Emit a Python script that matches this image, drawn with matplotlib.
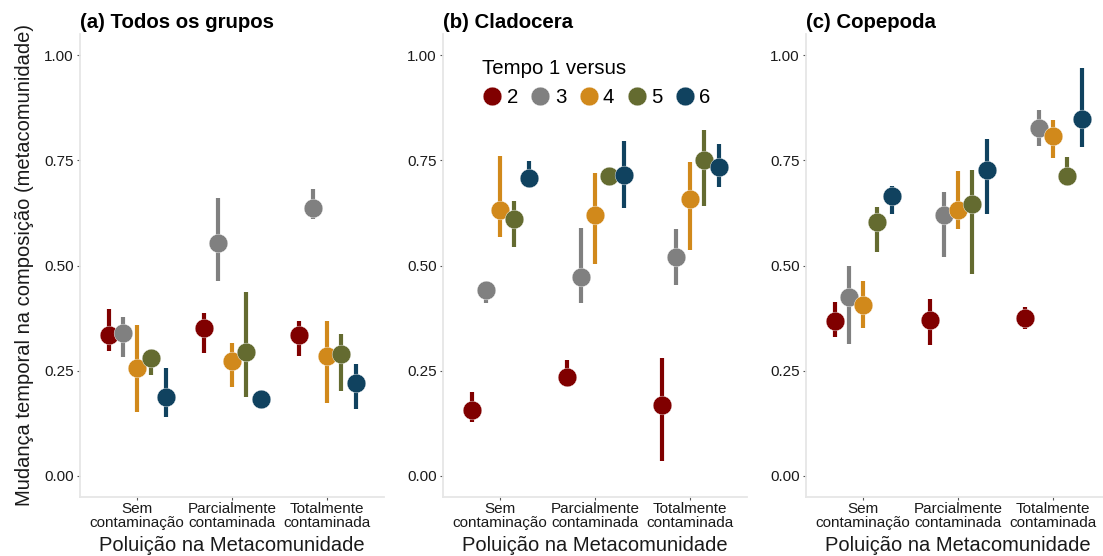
import matplotlib
matplotlib.use("Agg")
import matplotlib.pyplot as plt
from matplotlib.lines import Line2D
import numpy as np

# categorias e series
categorias = ["Sem\ncontaminação", "Parcialmente\ncontaminada", "Totalmente\ncontaminada"]
tempos = ["2", "3", "4", "5", "6"]
cores = ["#800000", "#808080", "#D1891B", "#646B30", "#10425F"]

# (a) Todos os grupos - media, limite inferior, limite superior (por tempo, por categoria)
todos_media = [[0.334, 0.352, 0.334],
               [0.340, 0.553, 0.637],
               [0.256, 0.273, 0.284],
               [0.281, 0.295, 0.289],
               [0.187, 0.183, 0.220]]
todos_inf = [[0.298, 0.292, 0.285],
             [0.282, 0.462, 0.610],
             [0.151, 0.211, 0.173],
             [0.239, 0.188, 0.202],
             [0.139, 0.176, 0.158]]
todos_sup = [[0.397, 0.388, 0.367],
             [0.377, 0.660, 0.682],
             [0.359, 0.316, 0.367],
             [0.300, 0.437, 0.337],
             [0.256, 0.190, 0.265]]

# (b) Cladocera
clado_media = [[0.157, 0.234, 0.169],
               [0.441, 0.473, 0.520],
               [0.633, 0.620, 0.657],
               [0.610, 0.712, 0.751],
               [0.709, 0.716, 0.735]]
clado_inf = [[0.127, 0.220, 0.036],
             [0.410, 0.410, 0.454],
             [0.568, 0.504, 0.538],
             [0.544, 0.705, 0.641],
             [0.695, 0.637, 0.686]]
clado_sup = [[0.199, 0.276, 0.281],
             [0.455, 0.589, 0.587],
             [0.761, 0.720, 0.747],
             [0.653, 0.718, 0.823],
             [0.748, 0.796, 0.788]]

# (c) Copepoda
cope_media = [[0.367, 0.371, 0.375],
              [0.426, 0.619, 0.826],
              [0.405, 0.633, 0.808],
              [0.603, 0.645, 0.713],
              [0.666, 0.728, 0.848]]
cope_inf = [[0.329, 0.310, 0.348],
            [0.313, 0.521, 0.785],
            [0.352, 0.587, 0.755],
            [0.531, 0.480, 0.695],
            [0.623, 0.622, 0.781]]
cope_sup = [[0.414, 0.420, 0.401],
            [0.498, 0.675, 0.869],
            [0.462, 0.724, 0.846],
            [0.640, 0.728, 0.758],
            [0.690, 0.800, 0.969]]

paineis = [("(a) Todos os grupos", todos_media, todos_inf, todos_sup),
           ("(b) Cladocera", clado_media, clado_inf, clado_sup),
           ("(c) Copepoda", cope_media, cope_inf, cope_sup)]

plt.rcParams["font.family"] = ["Liberation Sans", "DejaVu Sans"]

fig = plt.figure(figsize=(11.03, 5.56), dpi=100)
W, H = 1103.0, 556.0
lefts = [80, 443, 806]
largura = 304
topo, base = 34, 497

x = np.arange(1, len(categorias) + 1)
desloc = np.linspace(-0.3, 0.3, len(tempos))
ms = 13.5

eixos = []
for i, (titulo, media, inf, sup) in enumerate(paineis):
    ax = fig.add_axes([lefts[i] / W, 1 - base / H, largura / W, (base - topo) / H])
    eixos.append(ax)
    for j in range(len(tempos)):
        xs = x + desloc[j]
        ax.vlines(xs, inf[j], sup[j], color=cores[j], lw=3.0, zorder=2)
    for j in range(len(tempos)):
        xs = x + desloc[j]
        ax.plot(xs, media[j], "o", color=cores[j], ms=ms, mec="white",
                mew=0.3, zorder=3, ls="none")
    ax.set_xlim(0.4, 3.6)
    ax.set_ylim(-0.05, 1.05)
    ax.set_xticks(x)
    ax.set_xticklabels(categorias, fontsize=11, linespacing=1.05)
    ax.set_yticks([0, 0.25, 0.5, 0.75, 1.0])
    ax.set_yticklabels(["0.00", "0.25", "0.50", "0.75", "1.00"], fontsize=11)
    ax.tick_params(length=2.5, width=0.8, color="#555555", labelcolor="#1a1a1a", pad=2)
    ax.tick_params(axis="x", pad=1)
    for s in ["top", "right"]:
        ax.spines[s].set_visible(False)
    for s in ["left", "bottom"]:
        ax.spines[s].set_color("#E6E6E6")
        ax.spines[s].set_linewidth(1.3)
    ax.set_title(titulo, loc="left", fontsize=14.7, fontweight="bold", pad=4.5)
    ax.set_xlabel("Poluição na Metacomunidade", fontsize=14.5, labelpad=4, color="#1a1a1a")

eixos[0].set_ylabel("Mudança temporal na composição (metacomunidade)", fontsize=14.5,
                    labelpad=7, color="#1a1a1a")

alcas = [Line2D([], [], marker="o", ls="none", color=c, ms=ms, mec="white", mew=0.3)
         for c in cores]
leg = eixos[1].legend(alcas, tempos, title="Tempo 1 versus", ncol=5, frameon=False,
                      fontsize=14.7, title_fontsize=14.7, handlelength=1.0,
                      handletextpad=0.2, columnspacing=0.6, borderpad=0,
                      loc="upper left", bbox_to_anchor=(472 / W, 1 - 49 / H),
                      bbox_transform=fig.transFigure, alignment="left")

fig.savefig("out.png", dpi=100)
